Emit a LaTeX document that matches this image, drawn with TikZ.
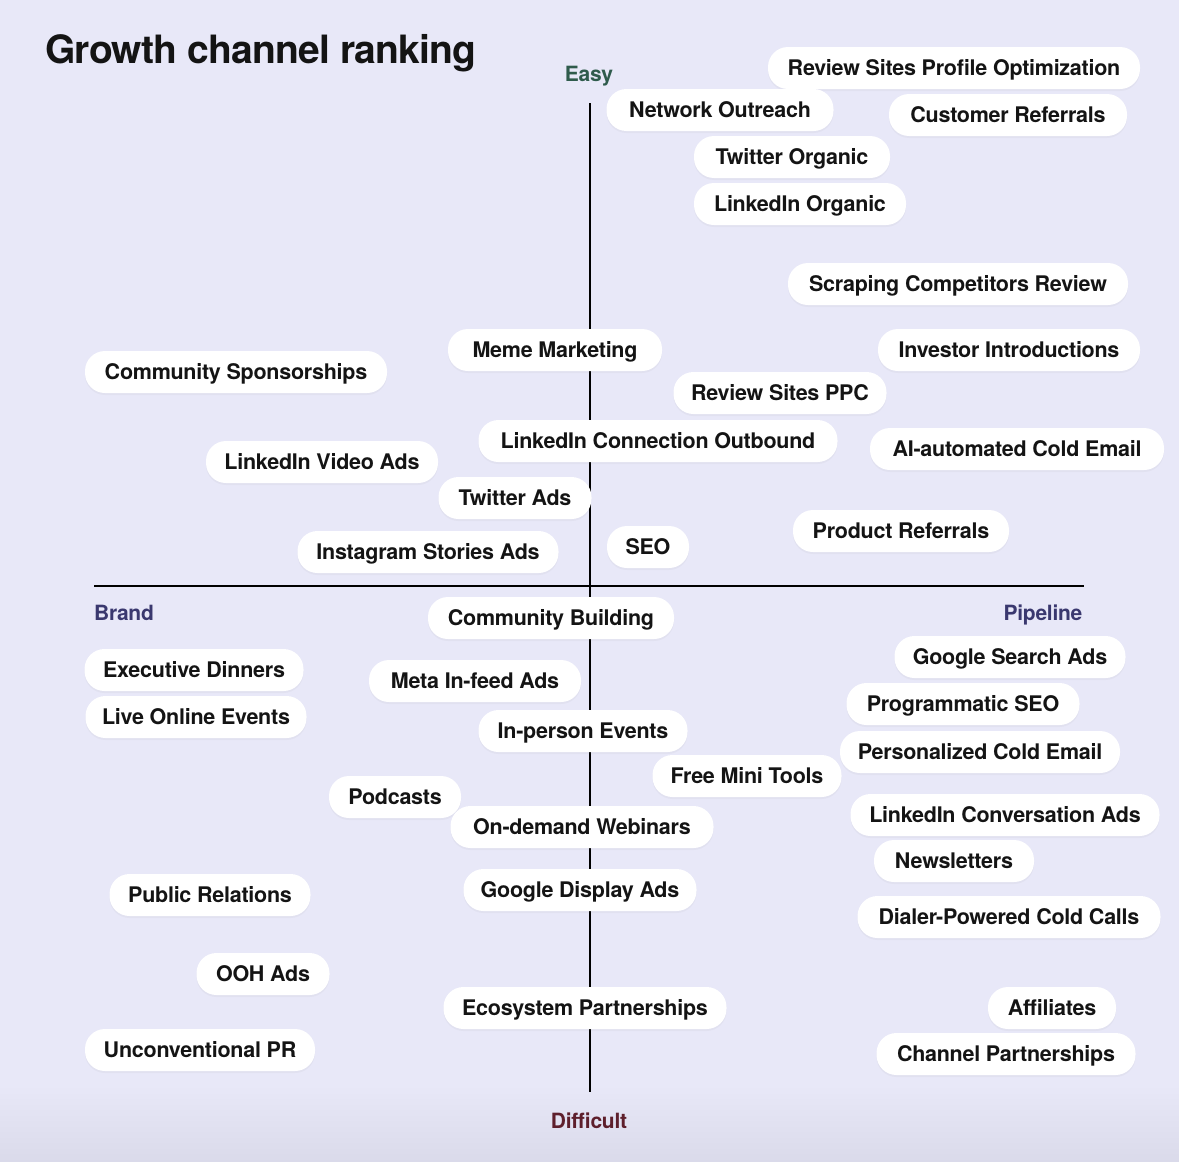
\documentclass[tikz,border=0pt]{standalone}
\usepackage{fontspec}
\setmainfont{TeX Gyre Heros}
\newfontfamily\pillfont[LetterSpace=-1.2]{TeX Gyre Heros}
\newfontfamily\titlefont[LetterSpace=-2]{TeX Gyre Heros}
\usetikzlibrary{shadows}
\definecolor{bgc}{HTML}{E8E8F8}
\definecolor{bgb}{HTML}{DADAEA}
\definecolor{txt}{HTML}{141414}
\definecolor{easyc}{HTML}{2F5B4C}
\definecolor{brandc}{HTML}{3A386F}
\definecolor{diffc}{HTML}{5E1F2C}
\tikzset{
  pill/.style={fill=white, rounded corners=20pt, minimum height=42pt, inner sep=0pt,
    text height=15.4pt, text depth=0pt,
    text=txt, font=\pillfont\fontsize{21.5}{24}\selectfont\bfseries,
    drop shadow={opacity=0.06, shadow xshift=0pt, shadow yshift=-2pt}},
  axis/.style={line width=2.5pt, black},
  lbl/.style={inner sep=0pt, text height=15pt, text depth=0pt,
    font=\pillfont\fontsize{21}{24}\selectfont\bfseries}
}
\newcommand{\pill}[5]{\node[pill, minimum width=#4pt] (#1) at (#2,#3) {#5};}
\begin{document}
\begin{tikzpicture}[x=1pt,y=-1pt]
\useasboundingbox (0,0) rectangle (1179,1162);
\fill[bgc] (0,0) rectangle (1179,1162);
\shade[top color=bgc, bottom color=bgb] (0,1085) rectangle (1179,1162);
% title
\node[anchor=base west, text=txt, inner sep=0pt, font=\titlefont\fontsize{39}{44}\selectfont\bfseries] (title) at (45,63) {Growth channel ranking};
% axis labels
\node[lbl, text=easyc] (easy) at (589,74) {Easy};
\node[lbl, text=diffc] (diff) at (589,1121) {Difficult};
\node[lbl, text=brandc] (brand) at (124,613) {Brand};
\node[lbl, text=brandc] (pipe) at (1043,613) {Pipeline};
% axes
\coordinate (vt) at (590,103);
\coordinate (vb) at (590,1092);
\coordinate (hl) at (94,586);
\coordinate (hr) at (1084,586);
\draw[axis] (vt) -- (vb);
\draw[axis] (hl) -- (hr);
% upper half
\pill{p1}{954}{68}{372}{Review Sites Profile Optimization}
\pill{p2}{720}{110}{227}{Network Outreach}
\pill{p3}{1008}{115}{238}{Customer Referrals}
\pill{p4}{792}{157}{196}{Twitter Organic}
\pill{p5}{800}{204}{212}{LinkedIn Organic}
\pill{p6}{958}{284}{340}{Scraping Competitors Review}
\pill{p7}{555}{350}{214}{Meme Marketing}
\pill{p8}{1009}{350}{262}{Investor Introductions}
\pill{p9}{236}{372}{302}{Community Sponsorships}
\pill{p10}{780}{393}{213}{Review Sites PPC}
\pill{p11}{658}{441}{359}{LinkedIn Connection Outbound}
\pill{p12}{1017}{449}{294}{AI-automated Cold Email}
\pill{p13}{322}{462}{232}{LinkedIn Video Ads}
\pill{p14}{515}{498}{153}{Twitter Ads}
\pill{p15}{428}{552}{261}{Instagram Stories Ads}
\pill{p16}{648}{547}{82}{SEO}
\pill{p17}{901}{531}{216}{Product Referrals}
% lower half
\pill{q1}{551}{618}{246}{Community Building}
\pill{q2}{194}{670}{219}{Executive Dinners}
\pill{q3}{196}{717}{221}{Live Online Events}
\pill{q4}{475}{681}{212}{Meta In-feed Ads}
\pill{q5}{583}{731}{209}{In-person Events}
\pill{q6}{747}{776}{189}{Free Mini Tools}
\pill{q7}{395}{797}{132}{Podcasts}
\pill{q8}{582}{827}{263}{On-demand Webinars}
\pill{q9}{1010}{657}{231}{Google Search Ads}
\pill{q10}{963}{704}{233}{Programmatic SEO}
\pill{q11}{980}{752}{280}{Personalized Cold Email}
\pill{q12}{1005}{815}{309}{LinkedIn Conversation Ads}
\pill{q13}{954}{861}{160}{Newsletters}
\pill{q14}{210}{895}{201}{Public Relations}
\pill{q15}{580}{890}{233}{Google Display Ads}
\pill{q16}{1009}{917}{303}{Dialer-Powered Cold Calls}
\pill{q17}{263}{974}{133}{OOH Ads}
\pill{q18}{585}{1008}{283}{Ecosystem Partnerships}
\pill{q19}{1052}{1008}{128}{Affiliates}
\pill{q20}{200}{1050}{230}{Unconventional PR}
\pill{q21}{1006}{1054}{259}{Channel Partnerships}
\end{tikzpicture}
\end{document}
